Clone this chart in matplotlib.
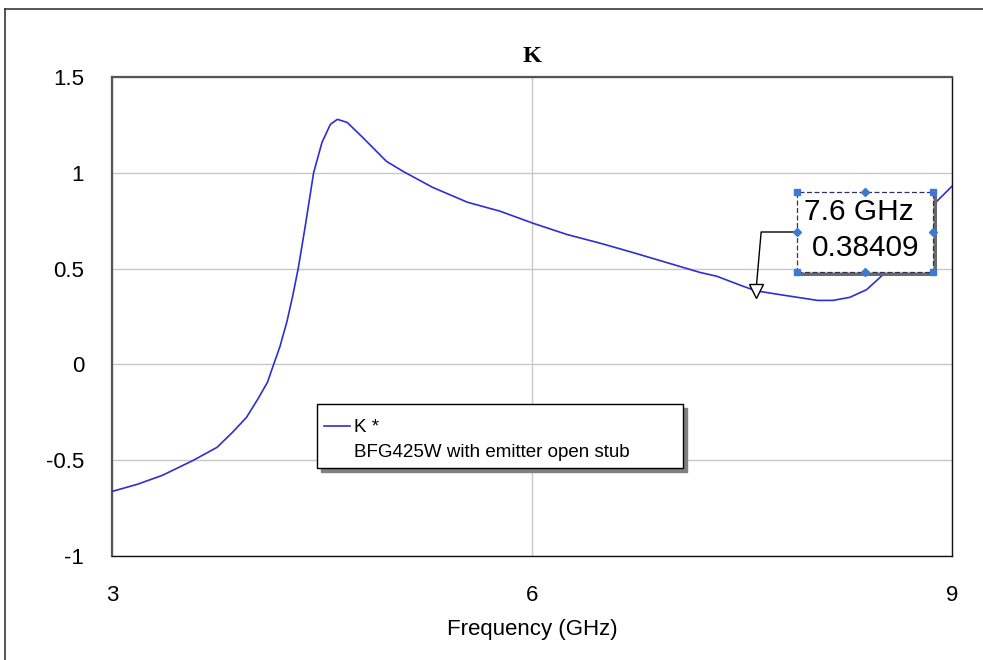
import matplotlib
matplotlib.use("Agg")
import matplotlib.pyplot as plt
from matplotlib.lines import Line2D
from matplotlib.patches import Rectangle

# ---- data ----
freq_ghz = [3.0, 3.18, 3.36, 3.58, 3.75, 3.86, 3.96, 4.04, 4.11, 4.15, 4.2, 4.25,
            4.29, 4.33, 4.38, 4.44, 4.5, 4.56, 4.61, 4.68, 4.79, 4.96, 5.08, 5.29,
            5.54, 5.77, 6.01, 6.25, 6.49, 6.72, 6.96, 7.2, 7.32, 7.5, 7.6, 7.79,
            8.04, 8.15, 8.27, 8.39, 8.51, 8.6, 8.7, 8.8, 8.89, 9.0]
k_values = [-0.663, -0.626, -0.579, -0.501, -0.433, -0.355, -0.277, -0.183, -0.094,
            -0.01, 0.094, 0.225, 0.355, 0.5, 0.72, 1.0, 1.159, 1.253, 1.279, 1.263,
            1.185, 1.06, 1.007, 0.924, 0.846, 0.80, 0.736, 0.678, 0.632, 0.584, 0.532,
            0.48, 0.46, 0.41, 0.384, 0.362, 0.334, 0.334, 0.35, 0.39, 0.47, 0.56,
            0.66, 0.76, 0.85, 0.93]

x_ticks = [3, 6, 9]
x_tick_labels = ["3", "6", "9"]
y_ticks = [-1, -0.5, 0, 0.5, 1, 1.5]
y_tick_labels = ["-1", "-0.5", "0", "0.5", "1", "1.5"]

series_label = "K *"
series_desc = "BFG425W with emitter open stub"
title = "K"
x_label = "Frequency (GHz)"

marker_freq = 7.6
marker_val = 0.38409

# ---- figure ----
W, H = 983, 660
fig = plt.figure(figsize=(W / 100, H / 100), dpi=100)
fig.patch.set_facecolor("white")
ax = fig.add_axes([112 / W, 104 / H, 840 / W, 479 / H])

sans = "Liberation Sans"
line, = ax.plot(freq_ghz, k_values, color="#2e2ed2", lw=1.2, zorder=3)

ax.set_xlim(3, 9)
ax.set_ylim(-1, 1.5)
ax.set_xticks(x_ticks)
ax.set_xticklabels(x_tick_labels, fontfamily=sans, fontsize=16)
ax.set_yticks(y_ticks)
ax.set_yticklabels(y_tick_labels, fontfamily=sans, fontsize=16)
ax.tick_params(axis="both", length=0)
ax.tick_params(axis="y", pad=20)
ax.tick_params(axis="x", pad=21)
ax.grid(True, color="#c8c8c8", lw=1)
ax.set_axisbelow(True)

for s in ("left", "top"):
    ax.spines[s].set_color("#555555")
    ax.spines[s].set_linewidth(1.6)
for s in ("right", "bottom"):
    ax.spines[s].set_color("#111111")
    ax.spines[s].set_linewidth(1.0)

ax.set_title(title, fontfamily="Liberation Serif", fontweight="bold", fontsize=17.5, pad=11)
ax.set_xlabel(x_label, fontfamily=sans, fontsize=16, labelpad=9)

# legend
blank = Line2D([], [], color="none")
leg = ax.legend([line, blank], [series_label, series_desc],
                loc="lower left", bbox_to_anchor=(0.244, 0.184, 0.436, 0.131),
                mode="expand", borderaxespad=0, fancybox=False,
                edgecolor="black", framealpha=1,
                shadow={"ox": 3, "oy": -3, "color": "#808080", "alpha": 1},
                prop={"family": sans, "size": 13.5},
                title=" ", title_fontsize=1,
                handlelength=1.4, handletextpad=0.2, labelspacing=0.41, borderpad=0.36)
leg.get_frame().set_linewidth(1.0)

# marker on curve
ax.plot([marker_freq], [marker_val], marker="v", ms=10, mfc="white", mec="black",
        mew=1, zorder=4, clip_on=False)

# marker readout box (axes fraction layout)
bx0, bx1 = (797 - 112) / 840, (933 - 112) / 840
by0, by1 = (556 - 272) / 479, (556 - 192) / 479
sdx, sdy = 4 / 840, 4 / 479
ax.add_patch(Rectangle((bx0 + sdx, by0 - sdy), bx1 - bx0, by1 - by0,
                       transform=ax.transAxes, facecolor="#6a6a6a", edgecolor="none",
                       zorder=5, clip_on=False))
ax.add_patch(Rectangle((bx0, by0), bx1 - bx0, by1 - by0, transform=ax.transAxes,
                       facecolor="white", edgecolor="#33335a", lw=0.9, ls=(0, (4, 2)),
                       zorder=6, clip_on=False))
ax.text((804 - 112) / 840, (556 - 212.5) / 479, f"{marker_freq} GHz",
        transform=ax.transAxes, fontfamily=sans, fontsize=21.5, ha="left", va="center",
        zorder=7)
ax.text((812 - 112) / 840, (556 - 247.5) / 479, f"{marker_val:.5f}",
        transform=ax.transAxes, fontfamily=sans, fontsize=21.5, ha="left", va="center",
        zorder=7)
bmx, bmy = (bx0 + bx1) / 2, (by0 + by1) / 2
ax.plot([bx0, bx1, bx0, bx1], [by0, by0, by1, by1], ls="none", marker="s", ms=5,
        color="#3a7ad6", transform=ax.transAxes, zorder=8, clip_on=False)
ax.plot([bmx, bmx, bx0, bx1], [by0, by1, bmy, bmy], ls="none", marker="D", ms=4.5,
        color="#3a7ad6", transform=ax.transAxes, zorder=8, clip_on=False)

# leader line
ax.annotate("", xy=(marker_freq, marker_val), xycoords="data",
            xytext=(bx0 - 3 / 840, bmy), textcoords="axes fraction",
            arrowprops=dict(arrowstyle="-", color="black", lw=1, shrinkA=0, shrinkB=5,
                            connectionstyle="angle,angleA=180,angleB=85,rad=0"),
            zorder=4)

# outer frame (top and left)
fig.add_artist(Line2D([5 / W, 1], [1 - 9 / H, 1 - 9 / H], color="#3a3a3a", lw=1.2,
                      transform=fig.transFigure))
fig.add_artist(Line2D([5 / W, 5 / W], [0, 1 - 9 / H], color="#3a3a3a", lw=1.2,
                      transform=fig.transFigure))

fig.savefig("out.png", dpi=100, facecolor="white")
